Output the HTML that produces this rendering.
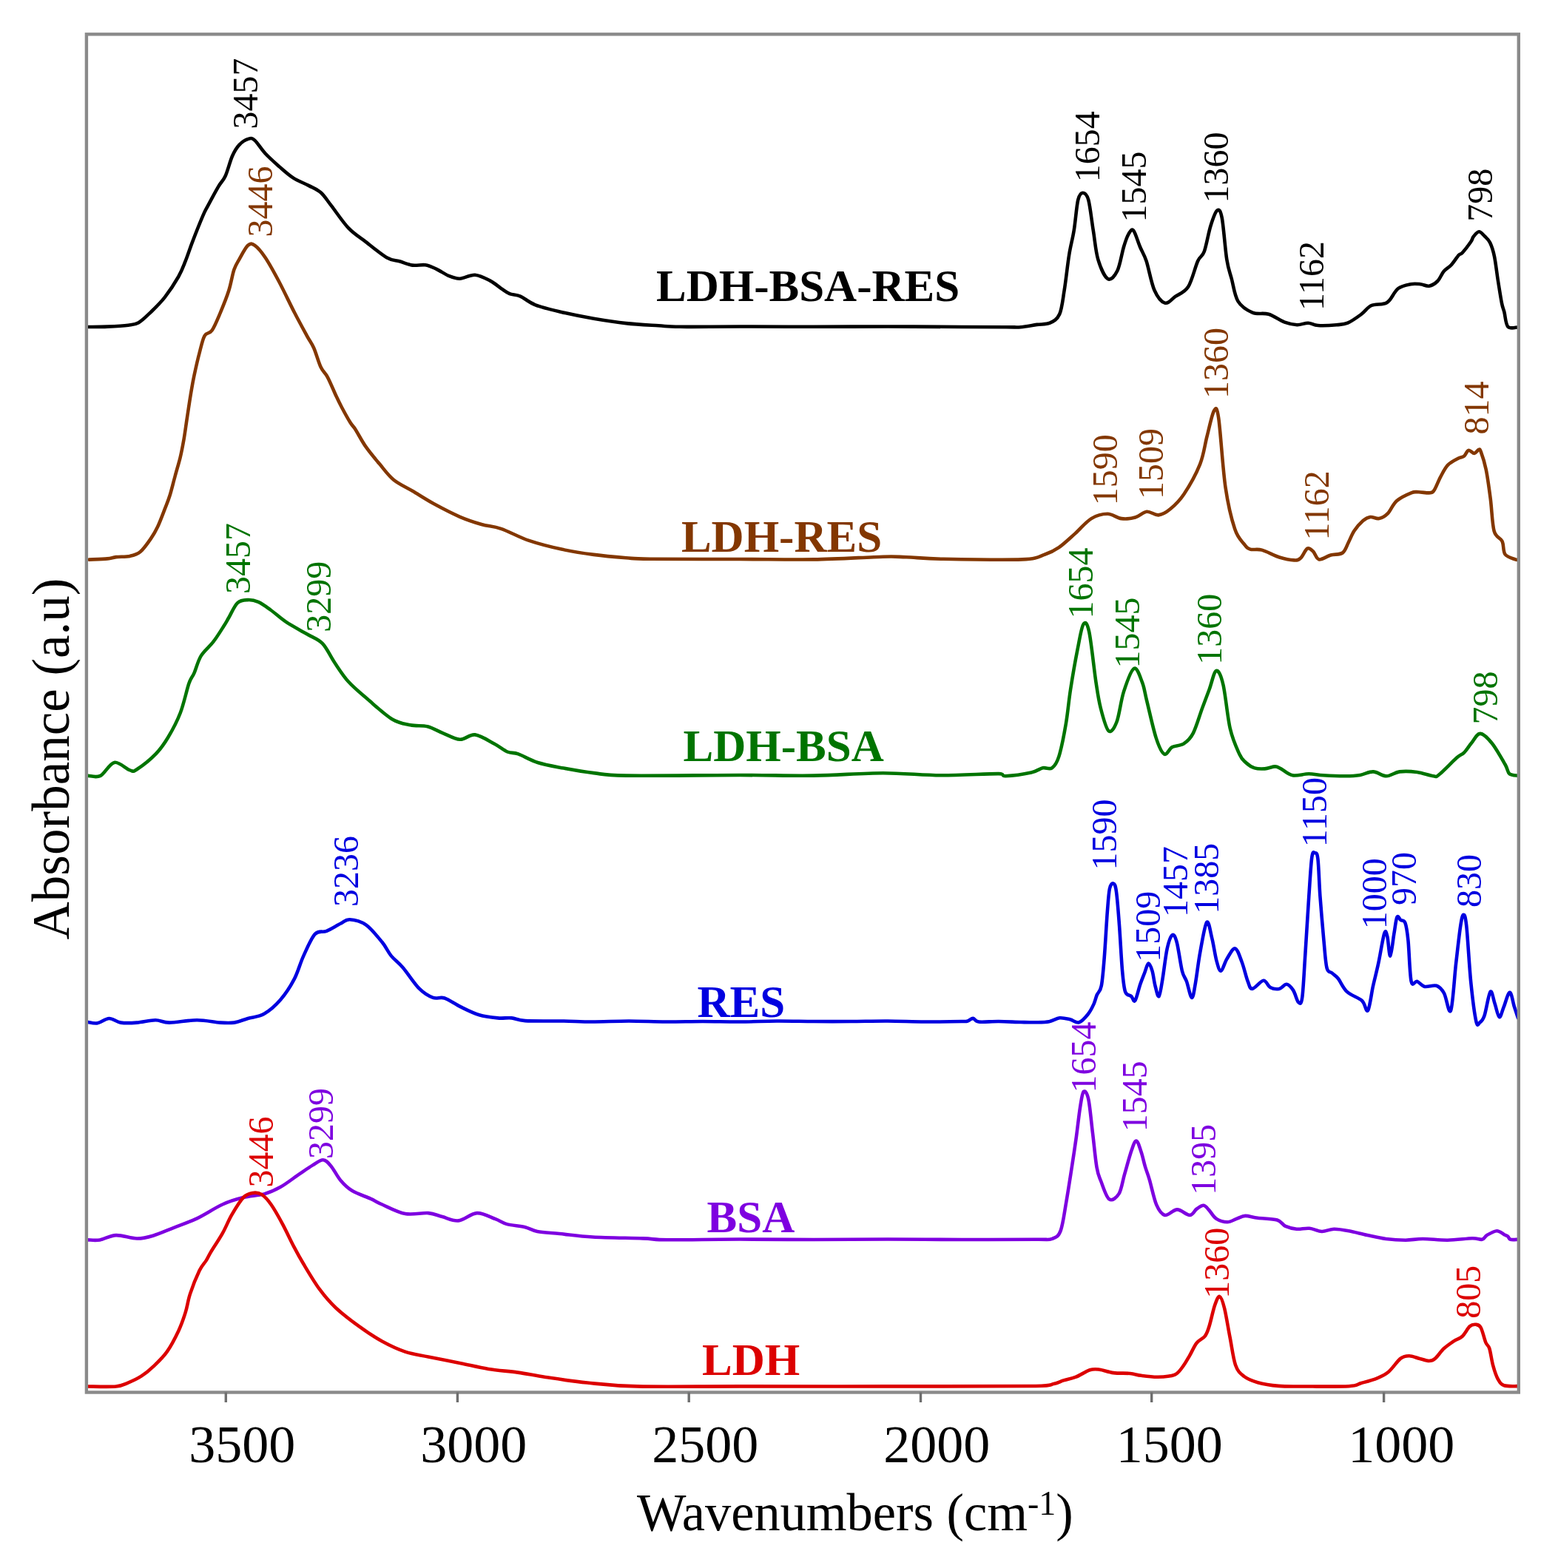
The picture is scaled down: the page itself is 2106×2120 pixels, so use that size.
<!DOCTYPE html><html><head><meta charset="utf-8"><title>FTIR spectra</title><style>html,body{margin:0;padding:0;background:#fff;}svg{display:block;}text{font-family:"Liberation Serif","Times New Roman",serif;}</style></head><body>
<svg width="2106" height="2120" viewBox="0 0 2106 2120">
<rect width="2106" height="2120" fill="#fff"/>
<path d="M118.2,442C122.7,441.9 136,442 145.2,441.6C154.4,441.2 166.3,440.6 173.3,439.7C180.3,438.8 182.3,439.1 187.4,436.2C192.5,433.3 197.9,427.8 203.8,422.1C209.7,416.4 216.3,410.2 222.6,402.2C228.8,394.2 236.6,382.2 241.3,374C246,365.8 247.6,360.7 250.7,352.9C253.8,345.1 256.2,337.3 260.1,327.1C264,316.9 270.7,300.1 274.2,291.9C277.7,283.7 277.7,284.5 281.2,277.9C284.7,271.3 291.4,258.8 295.3,252.1C299.2,245.4 301.5,244.8 304.6,238C307.7,231.2 310.9,218 314,211C317.1,204 319.7,199.7 323.4,195.8C327.1,191.9 332.8,188.6 336.3,187.6C339.8,186.6 340.8,186.6 344.5,189.9C348.2,193.2 353.1,201.6 358.6,207.5C364.1,213.4 371.1,219.6 377.3,225.1C383.6,230.6 389.5,236.1 396.1,240.4C402.8,244.7 410.9,247.6 417.2,250.9C423.4,254.2 428.5,255.8 433.6,260.3C438.7,264.8 441.4,269.9 447.7,277.9C453.9,285.9 463.3,300.2 471.1,308.4C478.9,316.6 486,320.5 494.6,327.1C503.2,333.7 515.1,343.8 522.7,348.2C530.3,352.6 534.2,351.6 540,353.3C545.8,355 551.7,357.8 557.5,358.6C563.3,359.4 569.6,357.5 575,358.3C580.4,359.1 584.2,361.1 589.6,363.6C595,366.1 601.8,371 607.1,373.2C612.5,375.4 615.9,376.9 621.7,376.7C627.5,376.4 635.3,371.2 642.1,371.7C648.9,372.2 656.8,376.6 662.6,379.6C668.5,382.6 672.8,386.9 677.2,389.8C681.6,392.7 684.4,395.3 688.8,397.1C693.2,398.9 697.6,398.1 703.4,400.6C709.2,403.1 714.5,408.8 723.8,412.3C733,415.9 745.8,418.8 758.9,421.9C772,425 788,428.2 802.6,430.7C817.2,433.2 831.8,435.5 846.4,437.1C861,438.7 878,439.5 890.2,440.3C902.4,441.1 901.1,441.6 919.4,441.8C937.7,442 969.9,441.5 1000,441.5C1030.1,441.5 1066.7,441.8 1100,441.8C1133.3,441.8 1166.7,441.5 1200,441.5C1233.3,441.5 1273.3,441.9 1300,442C1326.7,442.1 1346.7,442.2 1360,442.2C1373.3,442.2 1373,442.8 1380,442.2C1387,441.6 1395.2,439.8 1401.7,438.9C1408.2,438 1414,439 1419.1,436.7C1424.2,434.4 1428.9,432.2 1432.2,424.8C1435.5,417.4 1436.5,405.6 1438.7,392.2C1440.9,378.8 1443,357.7 1445.2,344.3C1447.4,330.9 1449.7,324 1451.7,311.7C1453.7,299.4 1455.2,278.9 1457.2,270.4C1459.2,261.9 1461.4,260.7 1463.7,260.7C1466,260.7 1469,261.9 1471.3,270.4C1473.6,278.9 1475.6,298.3 1477.8,311.7C1480,325.1 1481,340 1484.3,350.9C1487.6,361.8 1493.1,374.5 1497.4,377C1501.8,379.5 1506.8,373.4 1510.4,366.1C1514,358.9 1516.5,341.8 1519.1,333.5C1521.6,325.2 1523.5,319.7 1525.7,316.1C1527.9,312.5 1529.7,308.8 1532.2,311.7C1534.7,314.6 1538,326.6 1540.9,333.5C1543.8,340.4 1546.3,343.2 1549.6,353C1552.8,362.8 1556.2,382.8 1560.4,392.2C1564.6,401.6 1569.9,408.2 1574.6,409.6C1579.3,411.1 1583.5,404.5 1588.7,400.9C1594,397.3 1601,395.8 1606.1,387.8C1611.2,379.8 1615.5,361 1619.1,353C1622.7,345 1624.9,348 1627.8,340C1630.7,332 1633.6,314.4 1636.5,305.2C1639.4,296 1642.7,286.4 1645.2,284.6C1647.7,282.8 1649.5,283.2 1651.7,294.3C1653.9,305.4 1656.1,337.1 1658.3,350.9C1660.5,364.7 1662.3,367.6 1664.8,377C1667.3,386.4 1668.8,399.8 1673.5,407.4C1678.2,415 1686.1,419.7 1693,422.6C1699.9,425.5 1707.5,422.6 1714.8,424.8C1722,427 1730.1,433.3 1736.5,435.7C1742.9,438.1 1748,439 1753.3,439.2C1758.6,439.4 1763.6,436.6 1768.3,436.7C1773,436.8 1775.3,439.6 1781.7,440C1788.1,440.4 1800,439.8 1806.7,439.2C1813.4,438.6 1816.2,439.1 1821.7,436.7C1827.2,434.3 1834.7,428.9 1840,425C1845.3,421.1 1848.3,415.7 1853.3,413.3C1858.3,410.9 1865.8,412.1 1870,410.8C1874.2,409.6 1875,409.3 1878.3,405.8C1881.6,402.3 1885.3,393.6 1890,390C1894.7,386.4 1901.7,385.2 1906.7,384.2C1911.7,383.2 1915.8,383.8 1920,384.2C1924.2,384.6 1927.8,387.4 1931.7,386.7C1935.6,386 1940,383.3 1943.3,380C1946.6,376.7 1948.6,370.3 1951.7,366.7C1954.8,363.1 1958.4,361.9 1961.7,358.3C1965,354.7 1969.2,347.8 1971.7,345C1974.2,342.2 1973.9,344.8 1976.7,341.7C1979.5,338.6 1985.8,330.3 1988.3,326.7C1990.8,323.1 1989.9,322.2 1991.7,320C1993.5,317.8 1996.7,313.4 1999.2,313.3C2001.7,313.2 2004.2,316.7 2006.7,319.2C2009.2,321.7 2012,323.7 2014.2,328.3C2016.4,332.9 2018.2,338.1 2020,346.7C2021.8,355.3 2023.3,369.4 2025,380C2026.7,390.6 2028.6,403.1 2030,410C2031.4,416.9 2031.9,416.4 2033.3,421.7C2034.7,427 2035.2,438.2 2038.3,441.7C2041.4,445.2 2049.5,442.4 2051.7,442.5" fill="none" stroke="#000000" stroke-width="4.6" stroke-linejoin="round" stroke-linecap="round"/>
<path d="M120.6,756.6C124.7,756.4 139.1,756 145.2,755.4C151.2,754.8 151.8,753.7 156.9,753.1C162,752.5 170.2,753.1 175.7,751.9C181.2,750.7 185,749.9 189.7,746C194.4,742.1 199.9,734.1 203.8,728.4C207.7,722.7 210.1,718.6 213.2,712C216.3,705.4 219.9,695.6 222.6,688.6C225.3,681.6 227.3,677.2 229.6,669.8C231.9,662.4 234.2,652.6 236.6,644C238.9,635.4 241.7,626.4 243.7,618.2C245.7,610 246.8,603.8 248.4,594.8C250,585.8 251.4,574.5 253,564.3C254.6,554.1 256.1,543.2 257.7,533.8C259.3,524.4 260.4,517.4 262.4,508C264.4,498.6 267.1,486.5 269.5,477.5C271.9,468.5 273.7,459.2 276.5,454.1C279.3,449 283,451.9 286.5,446.8C290,441.7 293.8,432.3 297.6,423.3C301.4,414.3 306.2,402.6 309.3,392.8C312.4,383 314,371.6 316.4,364.6C318.8,357.6 320.3,356.1 323.4,350.6C326.5,345.1 331.6,334.9 335.1,331.8C338.6,328.7 340.6,329.1 344.5,331.8C348.4,334.5 353.1,340 358.6,348.2C364.1,356.4 370.7,368.5 377.3,381C383.9,393.5 392.1,411.1 398.4,423.3C404.7,435.5 410.6,446.2 414.9,454.1C419.2,462 421.1,463.5 424.2,470.5C427.3,477.5 430.5,489.7 433.6,496.3C436.7,502.9 439.5,503.7 443,510.3C446.5,516.9 451.6,529.5 454.7,536.1C457.8,542.8 458.6,544.3 461.7,550.2C464.8,556.1 470.4,566.2 473.5,571.3C476.6,576.4 477,575.2 480.5,580.7C484,586.2 489.1,596.4 494.6,604.2C500.1,612 507,620.2 513.3,627.6C519.5,635 524.7,642.7 532.1,648.7C539.5,654.7 548.4,658.4 557.5,663.8C566.6,669.2 576,675.5 586.7,681.3C597.4,687.1 611,694.2 621.7,698.8C632.4,703.4 641.6,706.3 650.9,709C660.1,711.7 666.5,711.1 677.2,714.8C687.9,718.4 701.5,726.3 715.1,730.9C728.7,735.5 744.3,739.4 758.9,742.6C773.5,745.8 788,748 802.6,749.9C817.2,751.8 833.8,753.2 846.4,754.2C859,755.2 852.9,755.4 878.5,755.7C904.1,756 963.1,755.9 1000,756C1036.9,756.1 1067.7,756.9 1100,756.4C1132.3,755.9 1173,753.2 1193.8,752.7C1214.6,752.2 1211.5,752.8 1225.1,753.3C1238.6,753.8 1249,755.3 1275.1,755.8C1301.1,756.3 1358.5,757.4 1381.4,756.4C1404.3,755.4 1404.4,752.2 1412.7,749.5C1421,746.8 1424.6,744.9 1431.4,740.2C1438.2,735.5 1446,727.9 1453.3,721.4C1460.6,714.9 1467.9,705.5 1475.2,701.1C1482.5,696.7 1490.3,694.8 1497.1,694.8C1503.9,694.8 1509.5,700.3 1515.8,701.1C1522,701.9 1528.9,701.1 1534.6,699.5C1540.3,697.9 1545,692.2 1550.2,691.7C1555.4,691.2 1560.7,696.9 1565.9,696.4C1571.1,695.9 1575.8,693.3 1581.5,688.6C1587.2,683.9 1593.5,678.4 1600.3,668.2C1607.1,658 1616.9,640.6 1622.1,627.6C1627.3,614.6 1628.4,602.1 1631.5,590.1C1634.6,578.1 1638.3,559.9 1640.9,555.7C1643.5,551.5 1644.6,547.9 1647.2,565.1C1649.8,582.3 1652.8,633.9 1656.5,658.9C1660.2,683.9 1664.8,702.2 1669.1,715.1C1673.3,728 1678.5,731.4 1682,736C1685.5,740.6 1686,741.3 1689.9,742.6C1693.9,743.9 1699.1,741.8 1705.7,743.6C1712.3,745.4 1722.2,751.2 1729.5,753.5C1736.8,755.8 1744.5,757.2 1749.3,757.4C1754.1,757.6 1755.2,757.1 1758.2,754.5C1761.2,751.9 1764.3,743.1 1767.1,741.6C1769.9,740.1 1772.3,743 1775,745.5C1777.7,748 1779,755.6 1783,756.4C1787,757.2 1793.5,752 1798.8,750.5C1804.1,749 1810.7,750.3 1814.7,747.5C1818.7,744.7 1820,738.7 1822.6,733.7C1825.2,728.8 1827.2,722.8 1830.5,717.8C1833.8,712.8 1838.8,707.1 1842.4,704C1846,700.9 1848.7,699.5 1852.3,699C1855.9,698.5 1860.2,701.8 1864.2,701C1868.2,700.2 1872,698.1 1876,694.1C1880,690.1 1882.6,681.8 1887.9,677.2C1893.2,672.6 1902.8,668.3 1907.7,666.3C1912.7,664.3 1913.3,665.3 1917.6,665.3C1921.9,665.3 1929.9,666.9 1933.5,666.3C1937.1,665.6 1937.1,665 1939.4,661.4C1941.7,657.8 1944.3,650 1947.3,644.6C1950.3,639.2 1953.2,632.8 1957.2,628.7C1961.2,624.6 1967.5,621.8 1971.1,619.8C1974.7,617.8 1976.7,618.6 1979,616.8C1981.3,615 1982.7,609.5 1985,608.9C1987.3,608.2 1990.6,613.1 1992.9,612.9C1995.2,612.7 1997.3,608.2 1998.8,607.9C2000.3,607.6 2000.1,606.4 2001.8,610.9C2003.5,615.4 2006.5,624.1 2008.7,634.7C2010.9,645.3 2012.9,660.4 2014.7,674.3C2016.5,688.1 2017,708.2 2019.6,717.8C2022.2,727.4 2028,726.4 2030.5,731.7C2033,737 2031.5,745.4 2034.5,749.5C2037.5,753.6 2045.4,755.2 2048.3,756.4C2051.2,757.5 2051.4,756.4 2052,756.4" fill="none" stroke="#833700" stroke-width="4.6" stroke-linejoin="round" stroke-linecap="round"/>
<path d="M119.4,1048.9C122.1,1048.9 129.9,1051.9 135.8,1048.9C141.7,1045.9 147.9,1032.2 154.6,1030.9C161.2,1029.7 170.6,1039.9 175.7,1041.4C180.8,1043 179.2,1043.9 185,1040.2C190.8,1036.5 203.8,1026.3 210.8,1019.1C217.9,1011.9 221.8,1006 227.3,996.8C232.8,987.6 239,976.1 243.7,964C248.4,951.9 252.3,933.1 255.4,924.1C258.5,915.1 259.7,916.4 262.4,910.1C265.1,903.9 267.5,893.6 271.8,886.6C276.1,879.6 283.1,874.5 288.2,867.9C293.3,861.3 298.8,852.3 302.3,846.8C305.8,841.3 306.2,840.3 309.3,835C312.4,829.7 316.8,819.1 321.1,815.1C325.4,811.1 330.4,811.3 335.1,811.1C339.8,810.9 344.1,811.7 349.2,813.9C354.3,816.1 359.4,820 365.6,824.5C371.9,829 378.5,835.4 386.7,840.9C394.9,846.4 406.7,852.4 414.9,857.3C423.1,862.2 429.8,863.8 436,870.2C442.2,876.7 446.5,887.4 452.4,896C458.2,904.6 463.7,913.6 471.1,921.8C478.5,930 487.1,936.9 496.9,945.3C506.7,953.7 520.2,966.4 529.8,972.2C539.4,978 546.6,978.6 554.6,980.3C562.6,982 570.6,980.5 577.9,982.3C585.2,984.1 591.1,988.2 598.4,991.1C605.7,994 614.4,999.4 621.7,999.8C629,1000.2 634.3,992.4 642.1,993.4C649.9,994.4 661.1,1001.9 668.4,1005.7C675.7,1009.6 680.5,1014.2 685.9,1016.5C691.2,1018.8 693.7,1017 700.5,1019.4C707.3,1021.8 716.6,1027.8 726.8,1031C737,1034.2 749.2,1036.2 761.8,1038.6C774.4,1040.9 788.5,1043.4 802.6,1045.1C816.7,1046.8 813.5,1048.1 846.4,1048.6C879.3,1049.1 957.7,1048 1000,1048C1042.3,1048 1067.7,1049.1 1100,1048.6C1132.3,1048.1 1165.1,1045.2 1193.8,1045.2C1222.5,1045.2 1246,1048.2 1272,1048.3C1298,1048.4 1335.5,1045.9 1350.1,1046.1C1359.5,1046.2 1352.2,1049.5 1359.5,1049.2C1366.8,1048.9 1385.6,1046.3 1393.9,1044.5C1402.2,1042.7 1404.8,1039.3 1409.5,1038.3C1414.2,1037.3 1418.3,1040.9 1422,1038.3C1425.7,1035.7 1428.3,1032.5 1431.4,1022.6C1434.5,1012.7 1438.2,994 1440.8,978.9C1443.4,963.8 1444.5,948.7 1447.1,932C1449.7,915.3 1453.5,893.4 1456.4,878.8C1459.3,864.2 1461.7,848.6 1464.3,844.4C1466.9,840.2 1469.2,840.8 1472.1,853.8C1475,866.8 1478.9,905.4 1481.5,922.6C1484.1,939.8 1484.9,946.1 1487.7,957C1490.5,967.9 1494.9,985.1 1498.6,988.2C1502.2,991.3 1506.2,984.6 1509.6,975.7C1513,966.9 1515.1,947.1 1519,935.1C1522.9,923.1 1528.8,905.9 1533,903.8C1537.2,901.7 1541.1,915.3 1544,922.6C1546.9,929.9 1547.1,935.1 1550.2,947.6C1553.3,960.1 1558.8,985.6 1562.7,997.6C1566.6,1009.6 1570.1,1017.4 1573.7,1019.5C1577.3,1021.6 1580.2,1012.5 1584.6,1010.1C1589,1007.8 1595.6,1008.5 1600.3,1005.4C1605,1002.3 1608.6,999.5 1612.8,991.4C1617,983.3 1621.6,966.9 1625.3,957C1629,947.1 1631.6,940.3 1634.7,932C1637.8,923.7 1640.9,908 1644,907C1647.1,906 1650.3,912.7 1653.4,925.7C1656.5,938.7 1659.2,969.5 1662.8,985.1C1666.4,1000.7 1671.8,1011.9 1675.3,1019.5C1678.8,1027.2 1680.6,1027.8 1684,1031C1687.4,1034.2 1691.5,1037 1695.8,1038.4C1700.1,1039.8 1705.1,1039.7 1709.7,1039.4C1714.3,1039.1 1720,1036.4 1723.6,1036.4C1727.2,1036.4 1727.5,1037.4 1731.5,1039.4C1735.5,1041.4 1741,1047.2 1747.3,1048.3C1753.6,1049.4 1762.2,1046.3 1769.1,1046.3C1776,1046.3 1780.7,1047.8 1788.9,1048.3C1797.2,1048.8 1810.3,1049.4 1818.6,1049.3C1826.8,1049.2 1832.1,1048.9 1838.4,1047.9C1844.7,1046.9 1850.2,1043.2 1856.2,1043.4C1862.2,1043.6 1868.1,1049.3 1874.1,1049.3C1880,1049.3 1885,1044.3 1891.9,1043.4C1898.8,1042.5 1908,1043 1915.6,1044C1923.2,1045 1932.5,1048.8 1937.4,1049.3C1942.4,1049.8 1940,1051.4 1945.3,1047.3C1950.6,1043.2 1963.5,1029.5 1969.1,1024.6C1974.7,1019.6 1975.7,1020.9 1979,1017.6C1982.3,1014.3 1985.3,1009.1 1988.9,1004.8C1992.5,1000.5 1996.2,991.9 2000.8,991.9C2005.4,991.9 2011,997.9 2016.6,1004.8C2022.2,1011.7 2030.5,1026.6 2034.5,1033.5C2038.5,1040.4 2037.5,1043.8 2040.4,1046.3C2043.3,1048.8 2050.1,1048.3 2052,1048.7" fill="none" stroke="#007400" stroke-width="4.6" stroke-linejoin="round" stroke-linecap="round"/>
<path d="M118,1381.7C120.3,1382 127,1384.1 131.9,1383.3C136.8,1382.5 142.3,1377.1 147.5,1377C152.7,1376.9 156.9,1381.7 163.2,1382.6C169.4,1383.5 177.2,1383.2 185,1382.6C192.8,1382 202.8,1379.2 210.1,1379.2C217.4,1379.2 219.4,1382.6 228.8,1382.6C238.2,1382.6 254.8,1379.2 266.3,1379.2C277.8,1379.2 289.2,1382 297.6,1382.6C306,1383.2 310.1,1383.5 316.4,1382.6C322.6,1381.7 328.3,1379 335.1,1377C341.9,1375 349.7,1375 357,1370.8C364.3,1366.6 372.1,1359.8 378.9,1352C385.7,1344.2 392.5,1333.8 397.7,1323.9C402.9,1314 405.5,1302.8 410.2,1292.6C414.9,1282.4 420.6,1268.5 425.8,1262.9C431,1257.3 435.7,1261.2 441.4,1258.8C447.1,1256.4 455,1251.4 460.2,1248.8C465.4,1246.2 467,1242.9 472.7,1243.2C478.4,1243.5 487.3,1245.3 494.6,1250.4C501.9,1255.5 510.8,1266.8 516.5,1273.8C522.2,1280.8 524.3,1286.9 529,1292.6C533.7,1298.3 538.4,1300.9 544.6,1308.2C550.9,1315.5 559.7,1329.6 566.5,1336.4C573.3,1343.2 579.6,1346.7 585.3,1348.9C591,1351.1 594.6,1347.4 600.9,1349.5C607.1,1351.6 615,1357.6 622.8,1361.4C630.6,1365.2 639.5,1369.8 647.8,1372.3C656.1,1374.8 665.5,1375.7 672.8,1376.4C680.1,1377.1 685.4,1375.8 691.6,1376.4C697.8,1377 698.6,1379.4 710,1380.1C721.4,1380.8 745,1380.3 760,1380.5C775,1380.7 785,1381.5 800,1381.5C815,1381.5 833.3,1380.5 850,1380.5C866.7,1380.5 883.3,1381.4 900,1381.5C916.7,1381.6 933.3,1381 950,1381C966.7,1381 983.3,1381.6 1000,1381.5C1016.7,1381.4 1033.3,1380.6 1050,1380.5C1066.7,1380.4 1083.3,1380.9 1100,1381C1116.7,1381.1 1133.3,1381.1 1150,1381C1166.7,1380.9 1183.3,1380.4 1200,1380.5C1216.7,1380.6 1233.3,1381.4 1250,1381.5C1266.7,1381.6 1290.3,1381.2 1300,1381C1308,1380.8 1305.4,1381.2 1308,1380.5C1310.6,1379.8 1312.9,1376.7 1315.4,1376.9C1317.9,1377.1 1317.2,1380.8 1323,1381.5C1328.8,1382.2 1340.5,1380.9 1350,1381C1359.5,1381.1 1371.7,1381.8 1380,1382C1388.3,1382.2 1393.6,1382.4 1400,1382.3C1406.4,1382.2 1412.8,1382.3 1418.2,1381.3C1423.6,1380.3 1427.6,1376.8 1432.3,1376.3C1437,1375.8 1442,1377.3 1446.4,1378.3C1450.8,1379.3 1454.5,1383.5 1458.6,1382.3C1462.6,1381.1 1467.3,1375.4 1470.7,1371.2C1474.1,1367 1476.7,1361.5 1478.7,1357.1C1480.7,1352.7 1481.1,1349 1482.8,1345C1484.5,1341 1487.1,1341.5 1488.8,1332.8C1490.5,1324 1491.6,1309.3 1492.9,1292.5C1494.2,1275.7 1495.7,1247.1 1496.9,1231.9C1498.1,1216.8 1498.6,1207.8 1499.9,1201.6C1501.2,1195.4 1503.5,1193.8 1505,1194.5C1506.5,1195.2 1507.7,1196.1 1509,1205.7C1510.3,1215.3 1511.8,1234.3 1513.1,1252.1C1514.4,1269.9 1515.8,1297.9 1517.1,1312.7C1518.4,1327.5 1519.1,1335.2 1521.1,1340.9C1523.1,1346.6 1527,1345 1529.2,1347C1531.4,1349 1532.3,1355.7 1534.3,1353C1536.3,1350.3 1539.1,1337.2 1541.3,1330.8C1543.5,1324.4 1545.6,1319.4 1547.4,1314.7C1549.2,1310 1550.7,1302.9 1552.4,1302.6C1554.1,1302.3 1556,1307.7 1557.5,1312.7C1559,1317.7 1560,1327.1 1561.5,1332.8C1563,1338.5 1564.9,1348.7 1566.6,1347C1568.3,1345.3 1569.8,1333.6 1571.6,1322.8C1573.4,1312 1575.5,1292.2 1577.7,1282.4C1579.9,1272.6 1582.5,1265.6 1584.7,1264.2C1586.9,1262.8 1588.6,1266.2 1590.8,1274.3C1593,1282.4 1595.7,1304 1597.9,1312.7C1600.1,1321.5 1601.7,1320.8 1603.9,1326.8C1606.1,1332.8 1609,1348.7 1611,1349C1613,1349.3 1614.2,1338.9 1616,1328.8C1617.8,1318.7 1619.6,1302 1622.1,1288.4C1624.6,1274.8 1628.5,1250.4 1631.2,1247C1633.9,1243.6 1636,1259.6 1638.2,1268.2C1640.4,1276.8 1642.3,1291.1 1644.3,1298.5C1646.3,1305.9 1648.1,1313 1650.4,1312.7C1652.8,1312.4 1655.2,1301.5 1658.4,1296.5C1661.6,1291.5 1666.1,1281.7 1669.5,1282.4C1672.9,1283.1 1675.7,1293.1 1678.6,1300.5C1681.5,1307.9 1684.3,1320.7 1686.7,1326.8C1689.1,1332.9 1689.3,1337.1 1692.8,1336.9C1696.3,1336.7 1703.9,1326.1 1707.9,1325.8C1711.9,1325.5 1713.5,1333.1 1717,1334.9C1720.5,1336.8 1725.4,1337.6 1729.1,1336.9C1732.8,1336.2 1736,1330.5 1739.2,1330.8C1742.4,1331.1 1745.4,1334.9 1748.1,1338.9C1750.8,1343 1753.1,1353.4 1755.1,1355.1C1757.1,1356.8 1758.7,1359.4 1760.2,1349C1761.7,1338.6 1762.7,1315.4 1764.2,1292.5C1765.7,1269.6 1767.8,1233.9 1769.3,1211.7C1770.8,1189.5 1771.9,1169 1773.3,1159.2C1774.7,1149.5 1776.1,1152.9 1777.4,1153.2C1778.8,1153.5 1780.2,1151.5 1781.4,1161.2C1782.6,1171 1783.1,1193.2 1784.4,1211.7C1785.8,1230.2 1788,1256.2 1789.5,1272.3C1791,1288.4 1791.7,1301.4 1793.5,1308.6C1795.3,1315.8 1798.1,1313.3 1800.6,1315.7C1803.1,1318.1 1805.2,1318.6 1808.6,1322.8C1812,1327 1815.4,1335.9 1820.8,1340.9C1826.2,1345.9 1836.3,1348.8 1841,1353C1845.7,1357.2 1846.5,1369.6 1849,1366.2C1851.5,1362.8 1853.7,1343.4 1856.1,1332.8C1858.5,1322.2 1860.7,1314.4 1863.2,1302.6C1865.7,1290.8 1869.2,1268.3 1871.2,1262.2C1873.2,1256.1 1874,1261.2 1875.3,1266.2C1876.6,1271.2 1877.8,1293.2 1879.3,1292.5C1880.8,1291.8 1882.9,1271 1884.4,1262.2C1885.9,1253.5 1886.9,1243 1888.4,1240C1889.9,1237 1891.6,1242.7 1893.4,1244C1895.2,1245.3 1897.8,1243.3 1899.5,1248C1901.2,1252.7 1902.2,1259.2 1903.5,1272.3C1904.8,1285.4 1905.6,1317.7 1907.6,1326.8C1909.6,1335.9 1912.6,1325.6 1915.6,1326.8C1918.6,1328 1921.3,1332.9 1925.7,1333.9C1930.1,1334.9 1937.5,1331.3 1941.9,1332.8C1946.3,1334.3 1948.8,1337.3 1952,1342.9C1955.2,1348.5 1958.4,1372.9 1961.1,1366.2C1963.8,1359.5 1965.9,1321.6 1968.1,1302.6C1970.3,1283.6 1972.5,1263 1974.2,1252.1C1975.9,1241.1 1976.9,1236.9 1978.2,1236.9C1979.5,1236.9 1980.6,1236.8 1982.3,1252.1C1984,1267.4 1986.1,1307.3 1988.3,1328.8C1990.5,1350.3 1993.4,1372.4 1995.4,1381.3C1997.4,1390.2 1998.6,1383.6 2000.4,1382.3C2002.2,1381 2004.1,1380.1 2006.5,1373.2C2008.9,1366.3 2012.2,1343.6 2014.6,1340.9C2016.9,1338.2 2018.6,1351.4 2020.6,1357.1C2022.6,1362.8 2024.7,1374.5 2026.7,1375.2C2028.7,1375.9 2030.5,1366.6 2032.8,1361.1C2035.1,1355.5 2038.4,1341.9 2040.8,1341.9C2043.2,1341.9 2045.1,1355.4 2046.9,1361.1C2048.8,1366.8 2051.1,1373.8 2051.9,1376.3" fill="none" stroke="#0000e0" stroke-width="4.6" stroke-linejoin="round" stroke-linecap="round"/>
<path d="M119,1676.4C121.7,1676.4 128.7,1677.5 135,1676.4C141.3,1675.4 148.6,1670.4 156.9,1670.1C165.2,1669.8 176.7,1674.4 185,1674.5C193.3,1674.6 198.6,1673.2 206.9,1670.7C215.2,1668.2 225.2,1663.7 235.1,1659.8C245,1655.9 255.4,1652.5 266.3,1647.3C277.2,1642.1 290.3,1633.2 300.7,1628.5C311.1,1623.8 319.5,1621.4 328.9,1619.1C338.3,1616.8 348.7,1616.7 357,1614.4C365.3,1612.1 371.1,1609.5 378.9,1605.1C386.7,1600.7 396.6,1592.9 403.9,1587.9C411.2,1583 417.2,1578.7 422.7,1575.4C428.2,1572.1 432.5,1568 436.7,1568.2C440.9,1568.5 443.8,1572.3 447.7,1576.9C451.6,1581.5 455.5,1590.2 460.2,1595.7C464.9,1601.2 469,1605.6 475.8,1609.8C482.6,1614 494,1617.6 500.8,1620.7C507.6,1623.8 508.7,1625.1 516.5,1628.5C524.3,1631.9 537.3,1639.1 547.7,1641C558.1,1642.9 570.6,1639.4 579,1640.1C587.4,1640.8 591,1643.4 597.8,1645.1C604.6,1646.8 611.8,1651.2 619.6,1650.4C627.4,1649.6 636.4,1640.5 644.7,1640.1C653.1,1639.7 662.9,1645.7 669.7,1648.2C676.5,1650.7 678.6,1653.3 685.3,1655.1C692,1656.9 703.2,1657.5 710,1659.2C716.8,1660.9 718.6,1663.5 726.3,1665C734,1666.5 743.8,1666.8 756.3,1668C768.8,1669.2 782.5,1671.4 801.3,1672.5C820.1,1673.6 852,1673.8 868.9,1674.4C885.8,1675 880.8,1676.1 902.6,1676.3C924.5,1676.5 967.1,1675.5 1000,1675.5C1032.9,1675.5 1066.7,1676 1100,1676C1133.3,1676 1166.7,1675.5 1200,1675.5C1233.3,1675.5 1266.7,1676 1300,1676C1333.3,1676 1379.6,1676 1400,1675.8C1420.4,1675.6 1416.9,1676.8 1422.5,1674.8C1428.1,1672.8 1430.7,1671.9 1433.8,1663.6C1436.9,1655.3 1438.8,1639.3 1441.3,1625.1C1443.8,1610.9 1446.6,1592.3 1448.8,1578.2C1451,1564.1 1452.5,1554.1 1454.4,1540.7C1456.3,1527.3 1458.3,1508.4 1460,1497.6C1461.7,1486.8 1462.8,1477.9 1464.7,1476C1466.6,1474.1 1469.3,1477.1 1471.3,1486.3C1473.3,1495.5 1475,1516 1476.9,1531.3C1478.8,1546.6 1480.6,1567.2 1482.5,1578.2C1484.4,1589.2 1485.4,1589.8 1488.2,1597C1491,1604.2 1495.3,1618.6 1499.4,1621.4C1503.5,1624.2 1509.1,1619.5 1512.6,1613.9C1516,1608.3 1517.3,1597.3 1520.1,1587.6C1522.9,1577.9 1526.8,1563.2 1529.4,1555.7C1532.1,1548.2 1533.8,1542.3 1536,1542.6C1538.2,1542.9 1540.6,1551.7 1542.6,1557.6C1544.6,1563.5 1546.3,1572 1548.2,1578.2C1550.1,1584.5 1551.3,1586.6 1553.8,1595.1C1556.3,1603.5 1559.8,1620.9 1563.2,1628.9C1566.7,1636.9 1569.8,1641.8 1574.5,1642.9C1579.2,1644 1585.7,1635.4 1591.3,1635.4C1596.9,1635.4 1603.8,1643.1 1608.2,1642.9C1612.6,1642.8 1614.5,1636.7 1617.6,1634.5C1620.7,1632.3 1624.2,1629.5 1627,1629.8C1629.8,1630.1 1631.7,1633.4 1634.5,1636.4C1637.3,1639.4 1639.8,1644.9 1643.9,1647.6C1648,1650.2 1654.2,1652.3 1658.9,1652.3C1663.6,1652.3 1667.9,1649 1672,1647.6C1676.1,1646.2 1678.6,1644.1 1683.3,1643.9C1688,1643.8 1693,1645.8 1700.2,1646.7C1707.4,1647.6 1720.2,1647.6 1726.4,1649.5C1732.7,1651.4 1733.3,1655.9 1737.7,1657.9C1742.1,1659.9 1747.3,1661.2 1752.7,1661.7C1758.1,1662.2 1764.3,1660.2 1770,1660.8C1775.7,1661.3 1781.2,1664.8 1786.7,1665C1792.2,1665.2 1797.2,1661.8 1803.3,1661.7C1809.4,1661.6 1815.8,1662.8 1823.3,1664.2C1830.8,1665.6 1840,1668.2 1848.3,1670C1856.6,1671.8 1864.7,1673.9 1873.3,1675C1881.9,1676.1 1891.7,1676.7 1900,1676.7C1908.3,1676.7 1913.8,1675 1923.3,1675C1932.8,1675 1945.6,1676.8 1956.7,1676.7C1967.8,1676.6 1982.2,1674.4 1990,1674.2C1997.8,1674 2000,1676.5 2003.3,1675.8C2006.6,1675.1 2006.7,1671.9 2010,1670C2013.3,1668.1 2019.4,1664.3 2023.3,1664.2C2027.2,1664.1 2030.8,1668 2033.3,1669.2C2035.8,1670.5 2036.9,1670.6 2038.3,1671.7C2039.7,1672.8 2039.4,1675.1 2041.7,1675.8C2044,1676.5 2050.3,1675.8 2052,1675.8" fill="none" stroke="#7e00e0" stroke-width="4.6" stroke-linejoin="round" stroke-linecap="round"/>
<path d="M117.8,1874.5C124.3,1874.5 147.8,1875.3 156.9,1874.5C166,1873.7 166.8,1872.1 172.5,1869.8C178.2,1867.5 185.6,1864.1 191.3,1860.4C197,1856.8 201.2,1853.4 206.9,1847.9C212.6,1842.4 220,1835.7 225.7,1827.6C231.4,1819.5 237.1,1808.3 241.3,1799.4C245.5,1790.5 248.1,1782.7 250.7,1774.4C253.3,1766.1 253.9,1758.8 257,1749.4C260.1,1740 265.9,1725.6 269.5,1718.1C273.1,1710.5 276.2,1708.3 278.8,1704.1C281.4,1699.8 281.5,1698.7 285.1,1692.6C288.8,1686.5 296,1675.9 300.7,1667.6C305.4,1659.3 308.5,1650.7 313.2,1642.6C317.9,1634.5 324.2,1624 328.9,1619.1C333.6,1614.1 337.2,1613.6 341.4,1612.9C345.6,1612.2 349.7,1612.5 353.9,1615.1C358.1,1617.7 361.7,1621.8 366.4,1628.5C371.1,1635.2 376.8,1645.4 382,1655.1C387.2,1664.8 393,1677.5 397.7,1686.4C402.4,1695.4 404.5,1699.3 410.2,1708.8C415.9,1718.3 424.7,1733.3 432,1743.2C439.3,1753.1 445,1759.9 453.9,1768.2C462.8,1776.5 474.8,1785.7 485.2,1793.2C495.6,1800.8 506.1,1807.8 516.5,1813.5C526.9,1819.2 537.3,1824.1 547.7,1827.6C558.1,1831.1 566.5,1831.9 579,1834.5C591.5,1837.1 609.2,1840.5 622.8,1843.2C636.3,1846 647.4,1848.9 660.3,1851C673.2,1853.1 687.1,1853.8 700,1855.6C712.9,1857.4 721.9,1859.7 737.5,1862C753.1,1864.3 773.1,1867.4 793.8,1869.5C814.4,1871.6 827,1873.6 861.4,1874.4C895.8,1875.2 943.6,1874.4 1000,1874.4C1056.4,1874.4 1133.3,1874.5 1200,1874.4C1266.7,1874.3 1362.6,1874.5 1400,1874C1424.4,1873.5 1418.2,1872.4 1424.4,1871.1C1430.7,1869.8 1432.5,1868 1437.5,1866.4C1442.5,1864.8 1448.5,1864.1 1454.4,1861.7C1460.4,1859.3 1467.9,1854 1473.2,1852.3C1478.5,1850.6 1481,1851.1 1486.3,1851.7C1491.6,1852.3 1498.2,1855.2 1505.1,1856.1C1512,1857 1521.3,1856.4 1527.6,1857C1533.8,1857.6 1536.3,1859 1542.6,1859.8C1548.8,1860.6 1557.6,1861.8 1565.1,1861.7C1572.6,1861.6 1582,1861.2 1587.6,1858.9C1593.2,1856.6 1595.5,1852 1598.9,1847.6C1602.3,1843.2 1605.1,1837.9 1608.2,1832.6C1611.3,1827.3 1614.1,1820.1 1617.6,1815.7C1621,1811.3 1626.1,1810 1628.9,1806.3C1631.7,1802.5 1632.3,1800.1 1634.5,1793.2C1636.7,1786.3 1639.7,1771.8 1642,1765.1C1644.3,1758.4 1646.4,1752.3 1648.6,1752.9C1650.8,1753.5 1652.8,1759.6 1655.1,1768.8C1657.4,1778 1660.1,1795.4 1662.6,1808.2C1665.1,1821 1667,1837 1670.1,1845.7C1673.2,1854.5 1676.4,1856.8 1681.4,1860.7C1686.4,1864.6 1692.4,1867 1700.2,1869.2C1708,1871.4 1718.3,1873 1728.3,1873.9C1738.3,1874.8 1744.2,1874.5 1760,1874.5C1775.8,1874.5 1810,1875 1823.3,1874.2C1836.6,1873.5 1833.6,1871.8 1840,1870C1846.4,1868.2 1855.6,1865.8 1861.7,1863.3C1867.8,1860.8 1871.4,1859.4 1876.7,1855C1882,1850.6 1888.6,1840.3 1893.3,1836.7C1898,1833.1 1900.8,1833.3 1905,1833.3C1909.2,1833.3 1913.8,1835.6 1918.3,1836.7C1922.8,1837.8 1928.1,1840 1931.7,1840C1935.3,1840 1936.7,1839.5 1940,1836.7C1943.3,1833.9 1947.5,1827.2 1951.7,1823.3C1955.9,1819.4 1960.8,1816.1 1965,1813.3C1969.2,1810.5 1973.1,1810 1976.7,1806.7C1980.3,1803.4 1983.7,1796 1986.7,1793.3C1989.8,1790.6 1992.5,1790.5 1995,1790.8C1997.5,1791.1 1999.5,1791 2001.7,1795C2003.9,1799 2006.4,1810.3 2008.3,1815C2010.2,1819.7 2011.6,1818 2013.3,1823.3C2015,1828.6 2016.3,1839.8 2018.3,1846.7C2020.2,1853.7 2022.5,1860.6 2025,1865C2027.5,1869.4 2028.8,1871.8 2033.3,1873.3C2037.8,1874.8 2048.6,1874 2051.7,1874.2" fill="none" stroke="#dc0000" stroke-width="4.6" stroke-linejoin="round" stroke-linecap="round"/>
<rect x="116.9" y="46.3" width="1935.9" height="1836.2" fill="none" stroke="#8a8a8a" stroke-width="4.4"/>
<line x1="305.3" y1="1882.5" x2="305.3" y2="1896" stroke="#6e6e6e" stroke-width="3.4"/>
<line x1="618.4" y1="1882.5" x2="618.4" y2="1896" stroke="#6e6e6e" stroke-width="3.4"/>
<line x1="931.2" y1="1882.5" x2="931.2" y2="1896" stroke="#6e6e6e" stroke-width="3.4"/>
<line x1="1244.5" y1="1882.5" x2="1244.5" y2="1896" stroke="#6e6e6e" stroke-width="3.4"/>
<line x1="1556.7" y1="1882.5" x2="1556.7" y2="1896" stroke="#6e6e6e" stroke-width="3.4"/>
<line x1="1870.6" y1="1882.5" x2="1870.6" y2="1896" stroke="#6e6e6e" stroke-width="3.4"/>
<text x="255.3" y="1976.6" font-size="72" fill="#000">3500</text>
<text x="568.3" y="1976.6" font-size="72" fill="#000">3000</text>
<text x="881.2" y="1976.6" font-size="72" fill="#000">2500</text>
<text x="1194.2" y="1976.6" font-size="72" fill="#000">2000</text>
<text x="1508.8" y="1976.6" font-size="72" fill="#000">1500</text>
<text x="1822.3" y="1976.6" font-size="72" fill="#000">1000</text>
<text transform="translate(348.1 174.6) rotate(-90)" font-size="48" fill="#000000">3457</text>
<text transform="translate(1485.6 246.2) rotate(-90)" font-size="48" fill="#000000">1654</text>
<text transform="translate(1549.2 300.5) rotate(-90)" font-size="48" fill="#000000">1545</text>
<text transform="translate(1659.6 274.4) rotate(-90)" font-size="48" fill="#000000">1360</text>
<text transform="translate(1788.5 420.1) rotate(-90)" font-size="48" fill="#000000">1162</text>
<text transform="translate(2017.4 299.7) rotate(-90)" font-size="48" fill="#000000">798</text>
<text transform="translate(367.5 320.5) rotate(-90)" font-size="48" fill="#833700">3446</text>
<text transform="translate(1509.7 683.2) rotate(-90)" font-size="48" fill="#833700">1590</text>
<text transform="translate(1572.2 674.9) rotate(-90)" font-size="48" fill="#833700">1509</text>
<text transform="translate(1659.8 538.9) rotate(-90)" font-size="48" fill="#833700">1360</text>
<text transform="translate(1795.5 730.5) rotate(-90)" font-size="48" fill="#833700">1162</text>
<text transform="translate(2012.4 587.5) rotate(-90)" font-size="48" fill="#833700">814</text>
<text transform="translate(338.2 803) rotate(-90)" font-size="48" fill="#007400">3457</text>
<text transform="translate(447.1 854.8) rotate(-90)" font-size="48" fill="#007400">3299</text>
<text transform="translate(1477.1 836.6) rotate(-90)" font-size="48" fill="#007400">1654</text>
<text transform="translate(1540.1 903.5) rotate(-90)" font-size="48" fill="#007400">1545</text>
<text transform="translate(1651.2 898.8) rotate(-90)" font-size="48" fill="#007400">1360</text>
<text transform="translate(2023.8 979.5) rotate(-90)" font-size="48" fill="#007400">798</text>
<text transform="translate(484.2 1226.1) rotate(-90)" font-size="48" fill="#0000e0">3236</text>
<text transform="translate(1509.4 1176.6) rotate(-90)" font-size="48" fill="#0000e0">1590</text>
<text transform="translate(1567.5 1300.7) rotate(-90)" font-size="48" fill="#0000e0">1509</text>
<text transform="translate(1604.7 1239.9) rotate(-90)" font-size="48" fill="#0000e0">1457</text>
<text transform="translate(1647.2 1235.7) rotate(-90)" font-size="48" fill="#0000e0">1385</text>
<text transform="translate(1792.9 1145.3) rotate(-90)" font-size="48" fill="#0000e0">1150</text>
<text transform="translate(1874.2 1256.3) rotate(-90)" font-size="48" fill="#0000e0">1000</text>
<text transform="translate(1914 1223.9) rotate(-90)" font-size="48" fill="#0000e0">970</text>
<text transform="translate(2001.8 1227) rotate(-90)" font-size="48" fill="#0000e0">830</text>
<text transform="translate(450 1567.1) rotate(-90)" font-size="48" fill="#7e00e0">3299</text>
<text transform="translate(1480.9 1477.5) rotate(-90)" font-size="48" fill="#7e00e0">1654</text>
<text transform="translate(1550.1 1530.3) rotate(-90)" font-size="48" fill="#7e00e0">1545</text>
<text transform="translate(1642.5 1615.7) rotate(-90)" font-size="48" fill="#7e00e0">1395</text>
<text transform="translate(368.8 1605.5) rotate(-90)" font-size="48" fill="#dc0000">3446</text>
<text transform="translate(1661.3 1755.7) rotate(-90)" font-size="48" fill="#dc0000">1360</text>
<text transform="translate(2000.7 1782.7) rotate(-90)" font-size="48" fill="#dc0000">805</text>
<text x="887" y="407" font-size="61" font-weight="bold" fill="#000000">LDH-BSA-RES</text>
<text x="920.9" y="745.9" font-size="61" font-weight="bold" fill="#833700">LDH-RES</text>
<text x="923.6" y="1029.2" font-size="61" font-weight="bold" fill="#007400">LDH-BSA</text>
<text x="942.5" y="1374.6" font-size="61" font-weight="bold" fill="#0000e0">RES</text>
<text x="955.6" y="1665.6" font-size="61" font-weight="bold" fill="#7e00e0">BSA</text>
<text x="949.1" y="1858.5" font-size="61" font-weight="bold" fill="#dc0000">LDH</text>
<text transform="translate(92.5 1270.4) rotate(-90)" font-size="71" fill="#000">Absorbance (a.u)</text>
<text transform="translate(860.9 2069.2) scale(0.978 1)" x="0" y="0" font-size="72" fill="#000">Wavenumbers (cm<tspan font-size="47" dy="-21">-1</tspan><tspan dy="21">)</tspan></text>
</svg></body></html>
